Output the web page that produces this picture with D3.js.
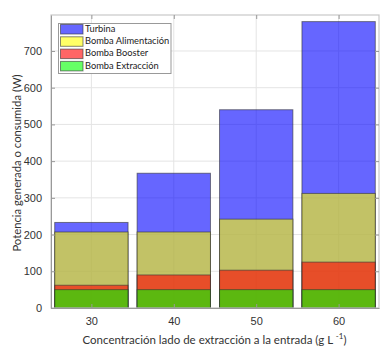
<!DOCTYPE html>
<html>
<head>
<meta charset="utf-8">
<script src="https://cdn.jsdelivr.net/npm/d3@7"></script>
<style>
  html, body { margin: 0; padding: 0; background: #fff; }
  svg { display: block; font-family: "Open Sans", sans-serif; }
</style>
</head>
<body>
<svg id="chart" width="383" height="348"></svg>
<script>
// Inlet draw-side concentration (g/L)
const categories = [30, 40, 50, 60];
// Power generated or consumed per device (W)
const turbina = [233, 367, 540, 780];
const bombaAlimentacion = [207, 207, 242, 312];
const bombaBooster = [62, 90, 103, 125];
const bombaExtraccion = [50, 50, 50, 50];
const yTicks = [0, 100, 200, 300, 400, 500, 600, 700];

const seriesNames = ["Turbina", "Bomba Alimentación", "Bomba Booster", "Bomba Extracción"];
const seriesValues = [turbina, bombaAlimentacion, bombaBooster, bombaExtraccion];
const seriesColors = ["#0000ff", "#ffff00", "#ff0000", "#00ff00"];

const svg = d3.select("#chart");
const m = { left: 51, right: 4, top: 15, bottom: 40 };
const W = 383, H = 348;
const x = d3.scaleLinear().domain([25.1, 64.9]).range([m.left, W - m.right]);
const y = d3.scaleLinear().domain([0, 798]).range([H - m.bottom, m.top]);
const barW = 8.9;
const labelFont = "Lato, 'Open Sans', sans-serif";

const g = svg.append("g");

// grid
g.append("g").selectAll("line").data(yTicks).join("line")
  .attr("x1", x.range()[0]).attr("x2", x.range()[1])
  .attr("y1", d => y(d)).attr("y2", d => y(d))
  .attr("stroke", "#e4e4e4").attr("stroke-width", 1);
g.append("g").selectAll("line").data(categories).join("line")
  .attr("x1", d => x(d)).attr("x2", d => x(d))
  .attr("y1", y.range()[0]).attr("y2", y.range()[1])
  .attr("stroke", "#e4e4e4").attr("stroke-width", 1);

// overlapping translucent bars, each drawn from zero
seriesValues.forEach((vals, si) => {
  g.append("g").selectAll("rect").data(vals).join("rect")
    .attr("x", (d, i) => x(categories[i] - barW / 2))
    .attr("width", (d, i) => x(categories[i] + barW / 2) - x(categories[i] - barW / 2))
    .attr("y", d => y(d))
    .attr("height", d => y(0) - y(d))
    .attr("fill", seriesColors[si]).attr("fill-opacity", 0.6)
    .attr("stroke", "#333").attr("stroke-opacity", 0.6).attr("stroke-width", 1);
});

// frame
g.append("rect")
  .attr("x", x.range()[0]).attr("y", y.range()[1])
  .attr("width", x.range()[1] - x.range()[0])
  .attr("height", y.range()[0] - y.range()[1])
  .attr("fill", "none").attr("stroke", "#c8c8c8").attr("stroke-width", 1.2);

// axes
const xAxis = d3.axisBottom(x).tickValues(categories).tickSizeInner(-4).tickSizeOuter(0).tickPadding(9);
const yAxis = d3.axisLeft(y).tickValues(yTicks).tickSizeInner(-4).tickSizeOuter(0).tickPadding(9);
const xa = g.append("g").attr("transform", `translate(0,${y(0)})`).call(xAxis);
const ya = g.append("g").attr("transform", `translate(${x.range()[0]},0)`).call(yAxis);
[xa, ya].forEach(a => {
  a.select(".domain").attr("stroke", "#999");
  a.selectAll(".tick line").attr("stroke", "#999");
  a.selectAll(".tick text").attr("fill", "#333").attr("font-size", 11);
});
// mirrored ticks on top and right
g.append("g").attr("transform", `translate(0,${y.range()[1]})`)
  .call(d3.axisTop(x).tickValues(categories).tickSizeInner(-4).tickSizeOuter(0).tickFormat(""))
  .call(a => { a.select(".domain").remove(); a.selectAll(".tick line").attr("stroke", "#999"); });
g.append("g").attr("transform", `translate(${x.range()[1]},0)`)
  .call(d3.axisRight(y).tickValues(yTicks).tickSizeInner(-4).tickSizeOuter(0).tickFormat(""))
  .call(a => { a.select(".domain").remove(); a.selectAll(".tick line").attr("stroke", "#999"); });

// axis titles
svg.append("text")
  .attr("transform", `translate(18,163) rotate(-90)`)
  .attr("text-anchor", "middle").attr("dominant-baseline", "middle")
  .attr("font-family", labelFont)
  .attr("font-size", 11.3).attr("fill", "#333")
  .text("Potencia generada o consumida (W)");
const xt = svg.append("text")
  .attr("x", 214.5).attr("y", 344)
  .attr("text-anchor", "middle")
  .attr("font-family", labelFont)
  .attr("font-size", 11.5).attr("fill", "#333");
xt.append("tspan").text("Concentración lado de extracción a la entrada (g L ");
xt.append("tspan").attr("dy", -5).attr("font-size", 8).text("-1");
xt.append("tspan").attr("dy", 5).text(")");

// legend
const lg = svg.append("g").attr("transform", "translate(58.5,23.5)");
lg.append("rect").attr("width", 112.5).attr("height", 50)
  .attr("fill", "#fff").attr("stroke", "#999").attr("stroke-width", 1);
seriesNames.forEach((name, i) => {
  const row = lg.append("g").attr("transform", `translate(2,${1 + i * 12.3})`);
  row.append("rect").attr("width", 22.5).attr("height", 9.5)
    .attr("fill", seriesColors[i]).attr("fill-opacity", 0.6)
    .attr("stroke", "#333").attr("stroke-opacity", 0.6);
  row.append("text").attr("x", 24.5).attr("y", 5).attr("dominant-baseline", "middle")
    .attr("font-family", labelFont)
    .attr("font-size", 9.3).attr("fill", "#222").text(name);
});
</script>
</body>
</html>
